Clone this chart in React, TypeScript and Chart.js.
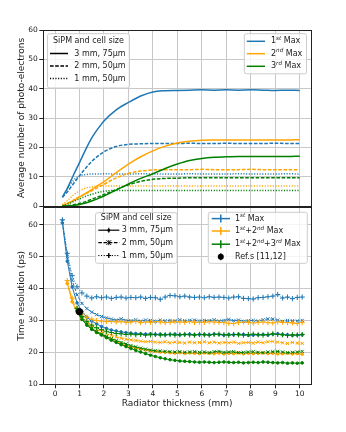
import React, { useEffect, useRef } from "react";
import { Chart, registerables } from "chart.js";
Chart.register(...registerables);

const FONT = "'DejaVu Sans', sans-serif";
const BLUE = "#1f77b4";
const ORANGE = "#ffa500";
const GREEN = "#008000";
const GRID = "#c8c8c8";
const AXIS = "#222222";
const TEXT = "#1a1a1a";

// ---------- Top panel: average number of photo-electrons ----------
const PE_X = [0.3, 0.5, 0.75, 1.0, 1.25, 1.5, 1.75, 2.0, 2.5, 3.0, 3.5, 4.0, 4.5, 5.0, 5.5, 6.0, 6.5, 7.0, 7.5, 8.0, 8.5, 9.0, 9.5, 10.0];
const PE_1ST_3MM = [3.0, 6.0, 10.5, 14.8, 19.2, 23.2, 26.3, 29.0, 32.8, 35.3, 37.5, 38.9, 39.3, 39.4, 39.5, 39.6, 39.5, 39.6, 39.5, 39.6, 39.5, 39.4, 39.5, 39.4];
const PE_1ST_2MM = [3.0, 4.8, 7.6, 10.3, 12.9, 15.2, 17.0, 18.5, 20.3, 21.0, 21.2, 21.3, 21.3, 21.3, 21.4, 21.3, 21.3, 21.4, 21.3, 21.3, 21.3, 21.4, 21.3, 21.3];
const PE_1ST_1MM = [3.0, 5.8, 8.7, 10.2, 10.7, 10.9, 10.9, 11.0, 10.9, 10.9, 11.0, 10.9, 10.9, 10.9, 11.0, 10.9, 10.9, 10.9, 11.0, 10.9, 10.9, 10.9, 11.0, 10.9];
const PE_2ND_3MM = [0.2, 0.8, 1.8, 3.0, 4.3, 5.6, 7.0, 8.3, 11.4, 14.3, 16.8, 18.8, 20.4, 21.5, 22.1, 22.4, 22.5, 22.5, 22.5, 22.5, 22.5, 22.5, 22.5, 22.6];
const PE_2ND_2MM = [0.2, 0.9, 2.0, 3.2, 4.2, 5.2, 6.3, 7.4, 9.6, 11.1, 11.9, 12.3, 12.4, 12.4, 12.4, 12.5, 12.4, 12.4, 12.4, 12.5, 12.4, 12.4, 12.4, 12.4];
const PE_2ND_1MM = [0.5, 1.8, 3.7, 5.2, 6.1, 6.5, 6.7, 6.8, 6.8, 6.8, 6.8, 6.8, 6.8, 6.8, 6.8, 6.8, 6.8, 6.8, 6.8, 6.8, 6.8, 6.8, 6.8, 6.8];
const PE_3RD_3MM = [0.0, 0.05, 0.2, 0.5, 1.0, 1.7, 2.5, 3.4, 5.4, 7.5, 9.4, 11.0, 12.8, 14.3, 15.5, 16.2, 16.6, 16.8, 16.9, 16.9, 16.9, 16.9, 16.9, 17.0];
const PE_3RD_2MM = [0.0, 0.1, 0.4, 0.9, 1.5, 2.3, 3.1, 3.9, 5.6, 7.2, 8.4, 9.1, 9.4, 9.5, 9.6, 9.6, 9.6, 9.6, 9.6, 9.6, 9.6, 9.6, 9.6, 9.6];
const PE_3RD_1MM = [0.1, 0.6, 1.5, 2.4, 3.3, 4.0, 4.6, 5.0, 5.3, 5.3, 5.3, 5.3, 5.3, 5.3, 5.3, 5.3, 5.3, 5.3, 5.3, 5.3, 5.3, 5.3, 5.3, 5.3];

// ---------- Bottom panel: time resolution (ps) ----------
const TR_X = [0.3, 0.5, 0.7, 0.9, 1.1, 1.3, 1.5, 1.7, 1.9, 2.1, 2.3, 2.5, 2.7, 2.9, 3.1, 3.3, 3.5, 3.7, 3.9, 4.1, 4.3, 4.5, 4.7, 4.9, 5.1, 5.3, 5.5, 5.7, 5.9, 6.1, 6.3, 6.5, 6.7, 6.9, 7.1, 7.3, 7.5, 7.7, 7.9, 8.1, 8.3, 8.5, 8.7, 8.9, 9.1, 9.3, 9.5, 9.7, 9.9, 10.1];
const TR_1ST_3MM = [60.5, 48.5, 40.5, 35.5, 32.8, 31.0, 29.8, 28.9, 28.1, 27.5, 27.0, 26.7, 26.4, 26.2, 26.0, 25.9, 25.8, 25.7, 25.8, 25.6, 25.7, 25.5, 25.6, 25.7, 25.5, 25.6, 25.7, 25.5, 25.6, 25.6, 25.5, 25.7, 25.6, 25.4, 25.6, 25.5, 25.7, 25.6, 25.3, 25.4, 25.5, 25.6, 25.4, 25.7, 25.8, 25.6, 25.5, 25.3, 25.4, 25.5];
const TR_1ST_2MM = [61.0, 50.0, 42.5, 38.0, 35.3, 33.7, 32.6, 31.8, 31.2, 30.8, 30.4, 30.1, 30.5, 30.0, 29.9, 30.2, 29.8, 30.1, 30.0, 29.7, 30.1, 29.9, 30.0, 29.8, 30.2, 29.9, 30.0, 30.1, 29.8, 30.0, 29.9, 30.2, 29.8, 30.0, 30.3, 29.9, 30.1, 29.7, 29.9, 30.0, 29.8, 30.2, 30.5, 30.4, 30.1, 29.7, 30.0, 29.9, 29.8, 30.0];
const TR_1ST_1MM = [61.5, 51.0, 44.0, 40.5, 38.6, 37.6, 37.0, 37.4, 37.1, 37.3, 36.9, 37.2, 37.3, 37.0, 37.2, 37.1, 37.3, 36.9, 37.2, 37.1, 36.6, 37.3, 37.8, 37.7, 37.4, 37.6, 37.3, 37.2, 37.3, 37.1, 37.4, 37.2, 37.3, 37.2, 37.0, 37.3, 37.4, 36.9, 36.8, 36.7, 37.1, 37.2, 37.4, 37.6, 38.1, 37.0, 37.3, 36.8, 37.2, 37.3];
const TR_12_3MM = [null, 41.5, 35.8, 32.5, 30.3, 28.7, 27.4, 26.4, 25.5, 24.7, 24.0, 23.3, 22.7, 22.2, 21.7, 21.3, 21.0, 20.7, 20.5, 20.3, 20.1, 20.0, 19.9, 19.8, 19.9, 19.7, 19.8, 19.7, 19.6, 19.8, 19.7, 19.6, 19.8, 19.5, 19.7, 19.6, 19.8, 19.5, 19.7, 19.6, 19.7, 19.8, 19.6, 19.7, 19.5, 19.6, 19.7, 19.5, 19.6, 19.4];
const TR_12_2MM = [null, 42.0, 36.3, 33.0, 31.0, 29.5, 28.3, 27.3, 26.5, 25.8, 25.3, 24.8, 24.4, 24.1, 23.9, 23.7, 23.5, 23.3, 23.4, 23.2, 23.1, 23.3, 23.0, 23.2, 23.1, 22.9, 23.2, 23.0, 23.1, 23.3, 23.0, 23.2, 22.9, 23.1, 23.0, 23.2, 22.8, 23.0, 23.1, 22.9, 23.2, 23.0, 23.3, 23.4, 23.2, 23.0, 22.8, 23.1, 22.9, 22.8];
const TR_12_1MM = [null, 42.5, 37.0, 33.8, 32.0, 31.0, 30.4, 30.0, 29.8, 29.6, 29.7, 29.5, 29.6, 29.4, 29.5, 29.7, 29.3, 29.5, 29.4, 29.6, 29.5, 29.3, 29.4, 29.6, 29.5, 29.4, 29.6, 29.3, 29.5, 29.4, 29.6, 29.5, 29.4, 29.3, 29.1, 29.0, 29.3, 29.5, 29.4, 29.2, 29.4, 29.5, 29.3, 29.2, 29.5, 29.4, 29.3, 29.2, 29.0, 29.3];
const TR_123_3MM = [null, null, null, 33.0, 30.3, 28.5, 27.2, 26.2, 25.4, 24.6, 23.8, 23.1, 22.4, 21.8, 21.2, 20.6, 20.1, 19.6, 19.1, 18.7, 18.3, 18.0, 17.7, 17.5, 17.3, 17.2, 17.1, 17.0, 16.9, 17.0, 16.9, 16.8, 16.9, 17.0, 16.9, 16.8, 16.9, 16.7, 16.8, 16.9, 16.8, 17.0, 16.9, 16.8, 16.7, 16.8, 16.6, 16.7, 16.6, 16.7];
const TR_123_2MM = [null, null, null, 33.3, 30.6, 28.8, 27.5, 26.5, 25.7, 25.0, 24.3, 23.7, 23.1, 22.6, 22.1, 21.7, 21.3, 21.0, 20.7, 20.5, 20.4, 20.3, 20.2, 20.1, 20.2, 20.0, 20.1, 20.2, 20.0, 20.1, 19.9, 20.2, 20.3, 20.0, 20.1, 20.2, 19.9, 20.0, 20.1, 20.2, 20.0, 19.9, 20.1, 20.2, 20.3, 20.1, 19.9, 20.0, 20.1, 20.3];
const TR_123_1MM = [null, null, null, 33.8, 31.2, 29.6, 28.5, 27.7, 27.1, 26.6, 26.2, 25.9, 25.8, 25.6, 25.7, 25.5, 25.6, 25.4, 25.5, 25.6, 25.4, 25.5, 25.6, 25.4, 25.5, 25.6, 25.5, 25.4, 25.6, 25.5, 25.4, 25.6, 25.7, 25.5, 25.4, 25.6, 25.5, 25.4, 25.6, 25.7, 25.5, 25.4, 25.6, 25.8, 25.6, 25.5, 25.3, 25.5, 25.4, 25.6];
const REF_X = [1.0];
const REF_Y = [32.7];

// ---------- ticks & labels ----------
const X_TICKS = [0, 1, 2, 3, 4, 5, 6, 7, 8, 9, 10];
const PE_Y_TICKS = [0, 10, 20, 30, 40, 50, 60];
const TR_Y_TICKS = [10, 20, 30, 40, 50, 60];
const X_TITLE = "Radiator thickness (mm)";
const PE_Y_TITLE = "Average number of photo-electrons";
const TR_Y_TITLE = "Time resolution (ps)";
const SIZE_TITLE = "SiPM and cell size";
const SIZE_LABELS = ["3 mm, 75\u03bcm", "2 mm, 50\u03bcm", "1 mm, 50\u03bcm"];
const PE_LABELS = ["1^{st} Max", "2^{nd} Max", "3^{rd} Max"];
const TR_LABELS = ["1^{st} Max", "1^{st}+2^{nd} Max", "1^{st}+2^{nd}+3^{rd} Max", "Ref.s [11,12]"];

const COLORS = [BLUE, ORANGE, GREEN];
const SIZE_DASH = [[], [3.6, 1.6], [1.1, 1.6]];
const SIZE_MARKER = ["circle", "crossRot", "cross"];
const SIZE_MARKER_R = [1.3, 2.3, 2.6];

const PE_SERIES = [
  [PE_1ST_3MM, PE_1ST_2MM, PE_1ST_1MM],
  [PE_2ND_3MM, PE_2ND_2MM, PE_2ND_1MM],
  [PE_3RD_3MM, PE_3RD_2MM, PE_3RD_1MM],
];
const TR_SERIES = [
  [TR_1ST_3MM, TR_1ST_2MM, TR_1ST_1MM],
  [TR_12_3MM, TR_12_2MM, TR_12_1MM],
  [TR_123_3MM, TR_123_2MM, TR_123_1MM],
];

const toPts = (xs: number[], ys: (number | null)[]) =>
  xs.map((x, i) => ({ x, y: ys[i] })).filter((p) => p.y !== null);

// ---------- drawing helpers ----------
function parseRich(s: string) {
  const parts: { t: string; sup: boolean }[] = [];
  const re = /\^\{([^}]*)\}/g;
  let last = 0;
  let m: RegExpExecArray | null;
  while ((m = re.exec(s))) {
    if (m.index > last) parts.push({ t: s.slice(last, m.index), sup: false });
    parts.push({ t: m[1], sup: true });
    last = re.lastIndex;
  }
  if (last < s.length) parts.push({ t: s.slice(last), sup: false });
  return parts;
}

function drawRich(ctx: CanvasRenderingContext2D, x: number, y: number, s: string, size: number) {
  let cx = x;
  ctx.fillStyle = TEXT;
  ctx.textBaseline = "middle";
  ctx.textAlign = "left";
  for (const p of parseRich(s)) {
    ctx.font = p.sup ? `italic ${size * 0.7}px ${FONT}` : `${size}px ${FONT}`;
    ctx.fillText(p.t, cx, p.sup ? y - size * 0.36 : y);
    cx += ctx.measureText(p.t).width;
  }
}

function legendBox(ctx: CanvasRenderingContext2D, x0: number, y0: number, x1: number, y1: number) {
  const r = 2;
  ctx.save();
  ctx.beginPath();
  ctx.moveTo(x0 + r, y0);
  ctx.lineTo(x1 - r, y0);
  ctx.quadraticCurveTo(x1, y0, x1, y0 + r);
  ctx.lineTo(x1, y1 - r);
  ctx.quadraticCurveTo(x1, y1, x1 - r, y1);
  ctx.lineTo(x0 + r, y1);
  ctx.quadraticCurveTo(x0, y1, x0, y1 - r);
  ctx.lineTo(x0, y0 + r);
  ctx.quadraticCurveTo(x0, y0, x0 + r, y0);
  ctx.closePath();
  ctx.fillStyle = "rgba(255,255,255,0.8)";
  ctx.fill();
  ctx.strokeStyle = "#cccccc";
  ctx.lineWidth = 1;
  ctx.stroke();
  ctx.restore();
}

function line(ctx: CanvasRenderingContext2D, x0: number, y0: number, x1: number, y1: number, color: string, w: number, dash: number[] = []) {
  ctx.save();
  ctx.beginPath();
  ctx.setLineDash(dash);
  ctx.strokeStyle = color;
  ctx.lineWidth = w;
  ctx.moveTo(x0, y0);
  ctx.lineTo(x1, y1);
  ctx.stroke();
  ctx.restore();
}

function marker(ctx: CanvasRenderingContext2D, style: string, x: number, y: number, r: number, color: string) {
  ctx.save();
  ctx.strokeStyle = color;
  ctx.fillStyle = color;
  ctx.lineWidth = 1;
  ctx.beginPath();
  if (style === "circle") {
    ctx.arc(x, y, r, 0, Math.PI * 2);
    ctx.fill();
  } else if (style === "crossRot") {
    ctx.moveTo(x - r, y - r); ctx.lineTo(x + r, y + r);
    ctx.moveTo(x - r, y + r); ctx.lineTo(x + r, y - r);
    ctx.stroke();
  } else {
    ctx.moveTo(x - r, y); ctx.lineTo(x + r, y);
    ctx.moveTo(x, y - r); ctx.lineTo(x, y + r);
    ctx.stroke();
  }
  ctx.restore();
}

function frame(chart: any) {
  const { ctx, chartArea: a } = chart;
  ctx.save();
  ctx.strokeStyle = AXIS;
  ctx.lineWidth = 1;
  ctx.strokeRect(Math.round(a.left) + 0.5, Math.round(a.top) + 0.5, Math.round(a.right) - Math.round(a.left), Math.round(a.bottom) - Math.round(a.top));
  ctx.restore();
}

// ---------- axis factories ----------
function yAxis(min: number, max: number, ticks: number[], title: string) {
  return {
    type: "linear",
    position: "left",
    min,
    max,
    afterBuildTicks: (s: any) => { s.ticks = ticks.map((v) => ({ value: v })); },
    afterFit: (s: any) => { s.width = 43.3; },
    grid: { color: GRID, lineWidth: 1, drawTicks: true, tickLength: 4, tickColor: AXIS, tickWidth: 1 },
    border: { display: false },
    ticks: { font: { family: FONT, size: 7.5 }, color: TEXT, padding: 1.5 },
    title: { display: true, text: title, font: { family: FONT, size: 9 }, color: TEXT, padding: { top: 16.3, bottom: 0 } },
  };
}

function xAxis(showLabels: boolean) {
  return {
    type: "linear",
    position: "bottom",
    min: -0.48,
    max: 10.46,
    afterBuildTicks: (s: any) => { s.ticks = X_TICKS.map((v) => ({ value: v })); },
    afterFit: (s: any) => { s.height = showLabels ? 28 : 0; },
    grid: { color: GRID, lineWidth: 1, drawTicks: showLabels, tickLength: 4, tickColor: AXIS, tickWidth: 1 },
    border: { display: false },
    ticks: { display: showLabels, font: { family: FONT, size: 7.5 }, color: TEXT, padding: 1, maxRotation: 0 },
    title: { display: showLabels, text: X_TITLE, font: { family: FONT, size: 9 }, color: TEXT, padding: { top: 0, bottom: 3.2 } },
  };
}

export default function App() {
  const topRef = useRef<HTMLCanvasElement>(null);
  const botRef = useRef<HTMLCanvasElement>(null);

  useEffect(() => {
    // ---- top chart ----
    const topDatasets: any[] = [];
    PE_SERIES.forEach((row, c) => {
      row.forEach((ys, s) => {
        topDatasets.push({
          data: toPts(PE_X, ys),
          borderColor: COLORS[c],
          borderWidth: 1.5,
          borderDash: SIZE_DASH[s],
          pointRadius: 0,
          cubicInterpolationMode: "monotone",
          fill: false,
          order: 2 - c,
        });
      });
    });

    const topLegend = {
      id: "topLegend",
      afterDraw(chart: any) {
        const ctx = chart.ctx;
        frame(chart);
        legendBox(ctx, 47.5, 33.7, 129.5, 88);
        ctx.save();
        ctx.font = `8px ${FONT}`;
        ctx.fillStyle = TEXT;
        ctx.textAlign = "center";
        ctx.textBaseline = "middle";
        ctx.fillText(SIZE_TITLE, 88.5, 41.3);
        ctx.restore();
        const rowsA = [53.5, 66, 78.5];
        SIZE_LABELS.forEach((lab, i) => {
          line(ctx, 50, rowsA[i], 68, rowsA[i], "#000", 1.5, SIZE_DASH[i]);
          drawRich(ctx, 74.3, rowsA[i], lab, 8);
        });
        legendBox(ctx, 244.3, 33.7, 306.5, 73.8);
        const rowsB = [41.3, 53.7, 66.3];
        PE_LABELS.forEach((lab, i) => {
          line(ctx, 246.8, rowsB[i], 265, rowsB[i], COLORS[i], 1.5);
          drawRich(ctx, 271, rowsB[i], lab, 8);
        });
      },
    };

    const top = new Chart(topRef.current!, {
      type: "line",
      data: { datasets: topDatasets },
      options: {
        responsive: false,
        animation: false,
        events: [],
        layout: { padding: { left: 0, right: 35, top: 30, bottom: 4.7 } },
        plugins: { legend: { display: false }, tooltip: { enabled: false } },
        scales: { x: xAxis(false) as any, y: yAxis(0, 60, PE_Y_TICKS, PE_Y_TITLE) as any },
      },
      plugins: [topLegend],
    });

    // ---- bottom chart ----
    const botDatasets: any[] = [];
    botDatasets.push({
      data: toPts(REF_X, REF_Y),
      showLine: false,
      pointStyle: "circle",
      pointRadius: 3.2,
      pointBackgroundColor: "#000",
      pointBorderColor: "#000",
      borderColor: "#000",
      order: -1,
    });
    TR_SERIES.forEach((row, c) => {
      row.forEach((ys, s) => {
        botDatasets.push({
          data: toPts(TR_X, ys),
          borderColor: COLORS[c],
          borderWidth: 1,
          borderDash: SIZE_DASH[s],
          pointStyle: SIZE_MARKER[s],
          pointRadius: SIZE_MARKER_R[s],
          pointBorderWidth: 1,
          pointBorderColor: COLORS[c],
          pointBackgroundColor: COLORS[c],
          tension: 0,
          fill: false,
          order: 2 - c,
        });
      });
    });

    const OFF = 200;
    const botLegend = {
      id: "botLegend",
      afterDraw(chart: any) {
        const ctx = chart.ctx;
        frame(chart);
        legendBox(ctx, 95.5, 212.7 - OFF, 177, 263.3 - OFF);
        ctx.save();
        ctx.font = `8px ${FONT}`;
        ctx.fillStyle = TEXT;
        ctx.textAlign = "center";
        ctx.textBaseline = "middle";
        ctx.fillText(SIZE_TITLE, 136.3, 218.3 - OFF);
        ctx.restore();
        const rowsA = [230.2, 242.6, 255.5];
        SIZE_LABELS.forEach((lab, i) => {
          const y = rowsA[i] - OFF;
          line(ctx, 98.3, y, 119.3, y, "#000", 1.2, SIZE_DASH[i]);
          marker(ctx, SIZE_MARKER[i], 108.8, y, i === 0 ? 1.5 : 2.3, "#000");
          line(ctx, 108.8, y - 2.5, 108.8, y + 2.5, "#000", 1);
          drawRich(ctx, 121.7, y, lab, 8);
        });
        legendBox(ctx, 208.3, 212.3 - OFF, 307.3, 263.3 - OFF);
        const rowsB = [218.6, 231, 244.2, 256.7];
        TR_LABELS.forEach((lab, i) => {
          const y = rowsB[i] - OFF;
          if (i < 3) {
            line(ctx, 211.7, y, 230, y, COLORS[i], 1.5);
            line(ctx, 220.8, y - 4, 220.8, y + 4, COLORS[i], 1.5);
          } else {
            line(ctx, 220.8, y - 3.5, 220.8, y + 3.5, "#000", 1.2);
            marker(ctx, "circle", 220.8, y, 3, "#000");
          }
          drawRich(ctx, 235, y, lab, 8);
        });
      },
    };

    const bot = new Chart(botRef.current!, {
      type: "line",
      data: { datasets: botDatasets },
      options: {
        responsive: false,
        animation: false,
        events: [],
        layout: { padding: { left: 0, right: 35, top: 7.3, bottom: 19.7 } },
        plugins: { legend: { display: false }, tooltip: { enabled: false } },
        scales: { x: xAxis(true) as any, y: yAxis(10, 65.4, TR_Y_TICKS, TR_Y_TITLE) as any },
      },
      plugins: [botLegend],
    });

    return () => {
      top.destroy();
      bot.destroy();
    };
  }, []);

  return (
    <div style={{ position: "absolute", left: 0, top: 0, width: 346, height: 432, background: "#fff" }}>
      <canvas ref={topRef} width={346} height={212} style={{ position: "absolute", left: 0, top: 0, width: 346, height: 212 }} />
      <canvas ref={botRef} width={346} height={232} style={{ position: "absolute", left: 0, top: 200, width: 346, height: 232 }} />
    </div>
  );
}
